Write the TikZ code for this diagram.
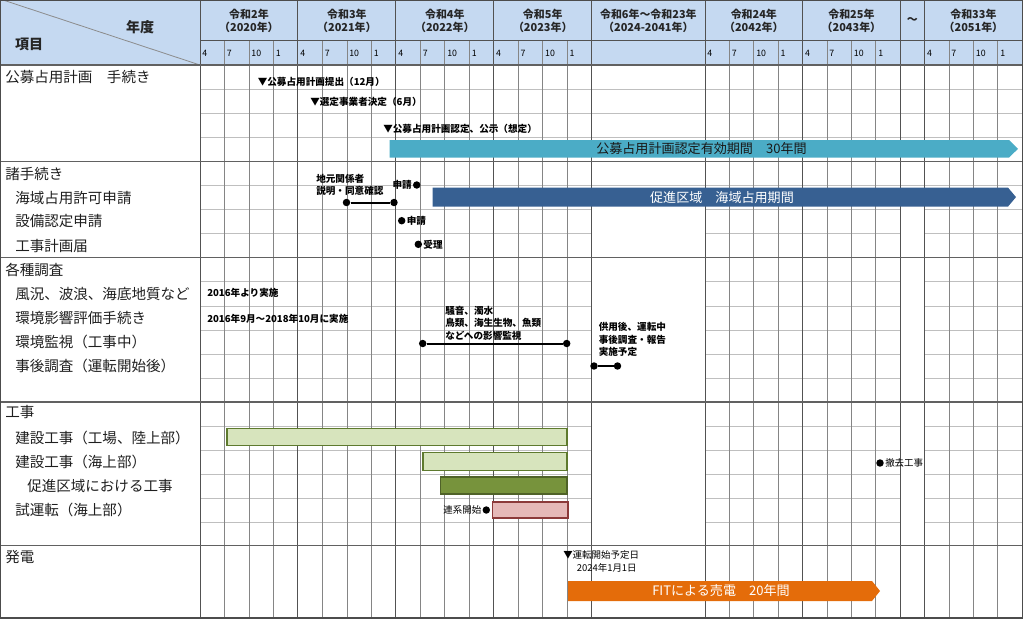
\documentclass[tikz,border=0pt]{standalone}
\usepackage{fontspec}
\setmainfont{Noto Sans CJK JP}
\definecolor{hdr}{HTML}{C5D9F1}
\definecolor{tealbar}{HTML}{4BACC6}
\definecolor{navybar}{HTML}{376092}
\definecolor{orangebar}{HTML}{E46C0A}
\definecolor{lgreen}{HTML}{D7E4BD}
\definecolor{lgreenline}{HTML}{5E7A2E}
\definecolor{dgreen}{HTML}{77933C}
\definecolor{dgreenline}{HTML}{4F6228}
\definecolor{pinkbar}{HTML}{E6B9B8}
\definecolor{pinkline}{HTML}{8C3A3A}
\begin{document}
\begin{tikzpicture}[x=0.75pt,y=-0.75pt,
  lbl/.style={anchor=west,inner sep=0pt,font=\fontsize{10.9}{13}\selectfont,text=black!88},
  hd/.style={inner sep=0pt,font=\fontsize{10.5}{12}\bfseries\selectfont,text=black!85},
  yr/.style={align=center,inner sep=0pt,font=\fontsize{8.2}{10}\bfseries\selectfont,text=black!85},
  mon/.style={anchor=west,inner sep=0pt,font=\fontsize{6.6}{7}\selectfont},
  ann/.style={anchor=west,inner sep=0pt,align=left,font=\fontsize{7.2}{9.4}\bfseries\selectfont},
  annr/.style={anchor=west,inner sep=0pt,align=left,font=\fontsize{7.1}{9.6}\selectfont},
  barlbl/.style={inner sep=0pt,font=\fontsize{9.8}{11}\selectfont},
  minorv/.style={draw=black!48,line width=0.5pt},
  majorv/.style={draw=black!68,line width=0.65pt},
  rowline/.style={draw=black!25,line width=0.5pt},
  secline/.style={draw=black!62,line width=0.8pt},
  mdot/.style={circle,fill=black,inner sep=0pt,minimum size=5.6pt},
  link/.style={line width=1.5pt},
  lbarbox/.style={fill=lgreen,draw=lgreenline,line width=1.1pt},
  dbarbox/.style={fill=dgreen,draw=dgreenline,line width=1.1pt},
  pbarbox/.style={fill=pinkbar,draw=pinkline,line width=1.1pt}]
\useasboundingbox (0,0) rectangle (1024,619);
% header background
\fill[hdr] (0,0) rectangle (1022.2,65);
% row lines spanning everything
\foreach \y in {89.3,113.3,137.7,185.7}
  \draw[rowline] (200,\y) -- (1022.2,\y);
% row lines that skip the wide and tilde columns
\foreach \y in {209.3,233.3,281.7,306,330,354.3,378.3,426,450,474,498.3,522}{
  \draw[rowline] (200,\y) -- (591.68,\y);
  \draw[rowline] (705,\y) -- (900.2,\y);
  \draw[rowline] (924.6,\y) -- (1022.2,\y);
}
% minor vertical lines
\foreach \k in {1,2,3,5,6,7,9,10,11,13,14,15}
  \draw[minorv] ({200+24.48*\k},40) -- ({200+24.48*\k},618);
\foreach \k in {1,2,3,5,6,7}
  \draw[minorv] ({705+24.4*\k},40) -- ({705+24.4*\k},618);
\foreach \k in {1,2,3}
  \draw[minorv] ({924.6+24.4*\k},40) -- ({924.6+24.4*\k},618);
% major vertical lines
\foreach \x in {200,297.92,395.84,493.76,591.68,705,802.6,900.2,924.6}
  \draw[majorv] (\x,0) -- (\x,618);
% header lines
\draw[majorv] (200,40) -- (1022.2,40);
\draw[black!45,line width=0.6pt] (3,0) -- (200,65);
% section lines
\foreach \y in {65,161.7,257.3,402,545.7}
  \draw[secline] (0,\y) -- (1022.2,\y);
\draw[black!70,line width=0.9pt] (0,0) rectangle (1022.2,618);

% header texts
\node[hd] (nendo) at (140,27) {年度};
\node[hd] (koumoku) at (29,44) {項目};
\node[yr] (y2020) at (248.96,21) {令和2年\\（2020年）};
\node[yr] (y2021) at (346.88,21) {令和3年\\（2021年）};
\node[yr] (y2022) at (444.8,21) {令和4年\\（2022年）};
\node[yr] (y2023) at (542.72,21) {令和5年\\（2023年）};
\node[yr] (y2024) at (648.34,21) {令和6年～令和23年\\（2024-2041年）};
\node[yr] (y2042) at (753.8,21) {令和24年\\（2042年）};
\node[yr] (y2043) at (851.4,21) {令和25年\\（2043年）};
\node[yr] (ytilde) at (912.4,21) {～};
\node[yr] (y2051) at (973.4,21) {令和33年\\（2051年）};
% month labels
\foreach \k/\m in {0/4,1/7,2/10,3/1,4/4,5/7,6/10,7/1,8/4,9/7,10/10,11/1,12/4,13/7,14/10,15/1}
  \node[mon] (ma\k) at ({202.2+24.48*\k},53) {\m};
\foreach \k/\m in {0/4,1/7,2/10,3/1,4/4,5/7,6/10,7/1}
  \node[mon] (mb\k) at ({707.2+24.4*\k},53) {\m};
\foreach \k/\m in {0/4,1/7,2/10,3/1}
  \node[mon] (mc\k) at ({926.8+24.4*\k},53) {\m};

% left labels
\node[lbl] (s1) at (5,77) {公募占用計画　手続き};
\node[lbl] (s2) at (5,173.5) {諸手続き};
\node[lbl] (s2a) at (15,197.5) {海域占用許可申請};
\node[lbl] (s2b) at (15,221.5) {設備認定申請};
\node[lbl] (s2c) at (15,245.5) {工事計画届};
\node[lbl] (s3) at (5,269.5) {各種調査};
\node[lbl] (s3a) at (15,294) {風況、波浪、海底地質など};
\node[lbl] (s3b) at (15,318) {環境影響評価手続き};
\node[lbl] (s3c) at (15,342) {環境監視（工事中）};
\node[lbl] (s3d) at (15,366.3) {事後調査（運転開始後）};
\node[lbl] (s4) at (5,412) {工事};
\node[lbl] (s4a) at (15,438) {建設工事（工場、陸上部）};
\node[lbl] (s4b) at (15,462) {建設工事（海上部）};
\node[lbl] (s4c) at (27,486.2) {促進区域における工事};
\node[lbl] (s4d) at (15,510.2) {試運転（海上部）};
\node[lbl] (s5) at (5,557) {発電};

% section 1 markers
\node[ann] (m1) at (257.5,81.5) {▼公募占用計画提出（12月）};
\node[ann] (m2) at (310,102) {▼選定事業者決定（6月）};
\node[ann] (m3) at (383,129) {▼公募占用計画認定、公示（想定）};
\fill[tealbar] (389.5,140) -- (1009,140) -- (1018,148.8) -- (1009,157.6) -- (389.5,157.6) -- cycle;
\node[barlbl,text=black!90] (tealtxt) at (701.5,148.8) {公募占用計画認定有効期間　30年間};

% section 2
\node[ann] (jimoto) at (316,185) {地元関係者\\説明・同意確認};
\node[mdot] (j1) at (346.5,202.5) {};
\node[mdot] (j2) at (394,202.5) {};
\draw[link] (j1) -- (j2);
\node[mdot] (p1) at (416.7,185) {};
\node[ann,anchor=east] (p1t) at (412,184.5) {申請};
\fill[navybar] (432.7,187.6) -- (1008,187.6) -- (1016,197.1) -- (1008,206.6) -- (432.7,206.6) -- cycle;
\node[barlbl,text=white] (navytxt) at (722,197.1) {促進区域　海域占用期間};
\node[mdot] (p2) at (401.7,220.7) {};
\node[ann] (p2t) at (406.5,220.5) {申請};
\node[mdot] (p3) at (418.3,244.3) {};
\node[ann] (p3t) at (423.2,244.3) {受理};

% section 3
\node[ann] (f1) at (207,293.3) {2016年より実施};
\node[ann] (f2) at (207,318.5) {2016年9月～2018年10月に実施};
\node[ann] (kankyo) at (445,323.3) {騒音、濁水\\鳥類、海生生物、魚類\\などへの影響監視};
\node[mdot] (e1) at (422.7,343.5) {};
\node[mdot] (e2) at (566.7,343.5) {};
\draw[link] (e1) -- (e2);
\node[ann] (jigo) at (598.5,339.6) {供用後、運転中\\事後調査・報告\\実施予定};
\node[mdot] (a1) at (594,366) {};
\node[mdot] (a2) at (617.5,366) {};
\draw[link] (a1) -- (a2);

% section 4
\path[lbarbox] (227,428.5) rectangle (567,445.5);
\path[lbarbox] (423,452.5) rectangle (567,470.5);
\path[dbarbox] (440.5,477) rectangle (567,494);
\path[pbarbox] (492.5,502) rectangle (568,518);
\node[mdot] (r1) at (486.3,510) {};
\node[annr,anchor=east] (r1t) at (481.5,510) {連系開始};
\node[mdot] (t1) at (880,463) {};
\node[annr] (t1t) at (885,463) {撤去工事};

% section 5
\node[annr] (op1) at (563,555) {▼運転開始予定日};
\node[annr] (op2) at (576.5,568) {2024年1月1日};
\fill[orangebar] (568,581) -- (872,581) -- (880,591) -- (872,601) -- (568,601) -- cycle;
\node[barlbl,text=white] (fittxt) at (721,591) {FITによる売電　20年間};
\end{tikzpicture}
\end{document}
